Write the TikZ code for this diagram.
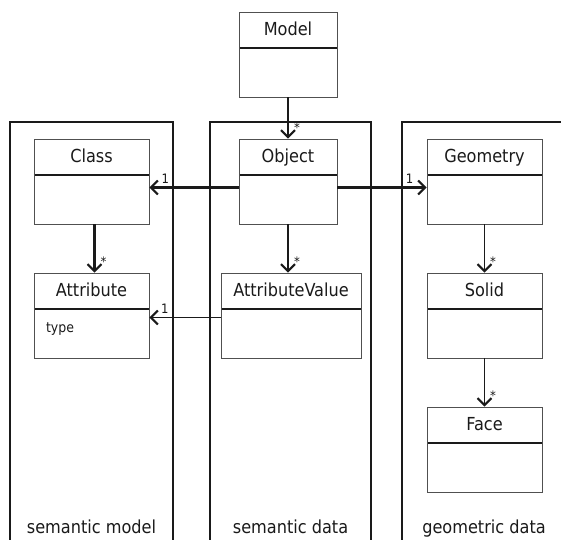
\documentclass[tikz,border=0pt]{standalone}
\usepackage{fontspec}
\setmainfont{DejaVu Sans Condensed}
\usetikzlibrary{arrows.meta}
\definecolor{BoxLine}{HTML}{505050}
\definecolor{Ink}{HTML}{1A1A1A}

\begin{document}
\begin{tikzpicture}[x=1bp,y=1bp,
    every node/.style={font=\fontsize{18}{21}\selectfont,text=Ink},
    umlbox/.style={draw=BoxLine,line width=0.9bp,inner sep=0pt,
      minimum width=115bp,minimum height=85bp,text height=24bp,text depth=61bp,
      path picture={\draw[Ink,line width=1.2bp]
        ([yshift=-36bp]path picture bounding box.north west) --
        ([yshift=-36bp]path picture bounding box.north east);}},
    pkgframe/.style={Ink,line width=2.2bp},
    assoc/.style={Ink,line width=2.4bp,
      -{Straight Barb[length=7bp,width=14bp,line width=2bp]}},
    link/.style={Ink,line width=1.1bp,
      -{Straight Barb[length=7bp,width=14bp,line width=2bp]}},
    mult/.style={font=\fontsize{13}{14}\selectfont,inner sep=0pt}]
  \useasboundingbox (0,0) rectangle (561,540);

  % packages
  \draw[pkgframe] (10,-10) -- (10,418) -- (173,418) -- (173,-10);
  \draw[pkgframe] (210,-10) -- (210,418) -- (371,418) -- (371,-10);
  \draw[pkgframe] (402,-10) -- (402,418) -- (570,418) -- (570,-10);
  \node[anchor=base] (semmodel) at (91.5,6) {semantic model};
  \node[anchor=base] (semdata) at (290.5,6) {semantic data};
  \node[anchor=base] (geodata) at (484,6) {geometric data};

  % classes
  \node[umlbox,minimum width=98bp] (model) at (288,485.5) {Model};
  \node[umlbox] (class) at (91.5,358.5) {Class};
  \node[umlbox,minimum width=98bp] (object) at (288,358.5) {Object};
  \node[umlbox] (geometry) at (484.5,358.5) {Geometry};
  \node[umlbox] (attribute) at (91.5,224.5) {Attribute};
  \node[anchor=base west,font=\fontsize{14}{15}\selectfont] (attrtype)
    at ([xshift=9bp,yshift=-60bp]attribute.north west) {type};
  \node[umlbox,minimum width=140bp] (attrvalue) at (291,224.5) {AttributeValue};
  \node[umlbox] (solid) at (484.5,224.5) {Solid};
  \node[umlbox] (face) at (484.5,90.5) {Face};

  % associations
  \draw[assoc] (model.south) --
    node[mult,pos=1,anchor=south west,xshift=5bp,yshift=5bp] {*} (object.north);
  \draw[assoc] ([yshift=-6bp]object.west) --
    node[mult,pos=1,anchor=south west,xshift=11bp,yshift=3bp] {1} ([yshift=-6bp]class.east);
  \draw[assoc] ([yshift=-6bp]object.east) --
    node[mult,pos=1,anchor=south east,xshift=-12bp,yshift=3bp] {1} ([yshift=-6bp]geometry.west);
  \draw[assoc] ([xshift=3bp]class.south) --
    node[mult,pos=1,anchor=south west,xshift=5bp,yshift=5bp] {*} ([xshift=3bp]class.south |- attribute.north);
  \draw[assoc] (object.south) --
    node[mult,pos=1,anchor=south west,xshift=5bp,yshift=5bp] {*} (object.south |- attrvalue.north);
  \draw[link] ([yshift=-2bp]attrvalue.west) --
    node[mult,pos=1,anchor=south west,xshift=11bp,yshift=3bp] {1} ([yshift=-2bp]attribute.east);
  \draw[link] (geometry.south) --
    node[mult,pos=1,anchor=south west,xshift=5bp,yshift=5bp] {*} (solid.north);
  \draw[link] (solid.south) --
    node[mult,pos=1,anchor=south west,xshift=5bp,yshift=5bp] {*} (face.north);
\end{tikzpicture}
\end{document}
